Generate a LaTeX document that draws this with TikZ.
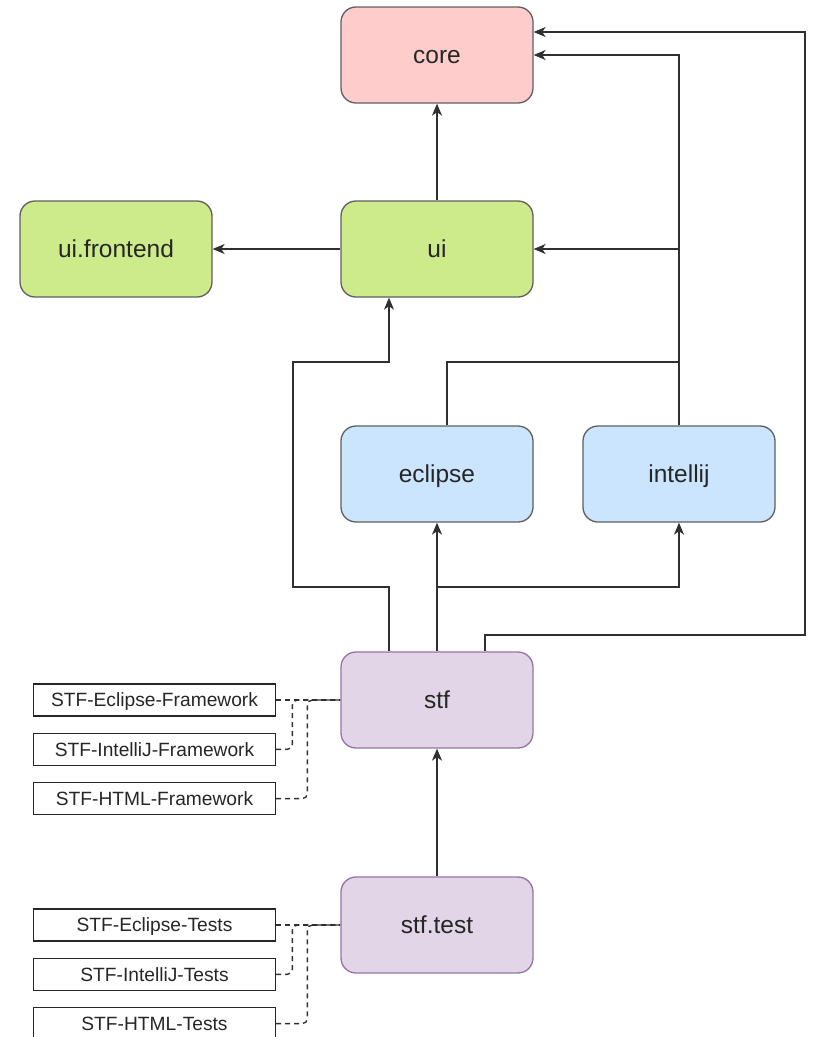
\documentclass[tikz,border=0pt]{standalone}
\usepackage{fontspec}
\setmainfont{Liberation Sans}
\usetikzlibrary{arrows.meta, positioning, calc}

\definecolor{corefill}{HTML}{FFCCCC}
\definecolor{uifill}{HTML}{CDEB8B}
\definecolor{idefill}{HTML}{CCE5FF}
\definecolor{stffill}{HTML}{E1D5E7}
\definecolor{stfline}{HTML}{9673A6}
\definecolor{boxline}{HTML}{5F5F5F}
\definecolor{wire}{HTML}{303030}

\tikzset{
    module/.style={ % Big rounded boxes for the modules
    draw=boxline, line width=1.3pt, rounded corners=15pt,
    minimum width=192pt, minimum height=96pt,
    font=\fontsize{24.5}{28}\selectfont, text=black!85,
    text height=22pt, text depth=5pt},
    framework/.style={ % Small plain boxes on the left
    draw=black!85, line width=1.3pt, inner sep=0pt,
    minimum width=242pt, minimum height=32pt,
    font=\fontsize{19.2}{22}\selectfont, text=black!85,
    text height=17pt, text depth=3.5pt},
    wire/.style={ % Plain connector lines
    draw=wire, line width=1.5pt},
    dep/.style={ % Dependency arrows
    wire, -{Stealth[length=12pt, width=10pt, inset=3.5pt]}},
    opt/.style={ % Dashed links to the frameworks
    draw=wire, line width=1.4pt, dash pattern=on 5pt off 4pt,
    rounded corners=5pt}}

\begin{document}
\begin{tikzpicture}[x=1pt, y=-1pt]
    \useasboundingbox (0,0) rectangle (815,1037);

    % Modules
    \node[module, fill=corefill] (core) at (437,55) {core};
    \node[module, fill=uifill] (ui) at (437,249) {ui};
    \node[module, fill=uifill] (frontend) at (116,249) {ui.frontend};
    \node[module, fill=idefill] (eclipse) at (437,474) {eclipse};
    \node[module, fill=idefill] (intellij) at (679,474) {intellij};
    \node[module, fill=stffill, draw=stfline] (stf) at (437,700) {stf};
    \node[module, fill=stffill, draw=stfline] (stftest) at (437,925) {stf.test};

    % Frameworks and tests
    \node[framework] (sef) at (154.5,700) {STF-Eclipse-Framework};
    \node[framework, below=16pt of sef] (sif) {STF-IntelliJ-Framework};
    \node[framework, below=16pt of sif] (shf) {STF-HTML-Framework};
    \node[framework] (set) at (154.5,925) {STF-Eclipse-Tests};
    \node[framework, below=16pt of set] (sit) {STF-IntelliJ-Tests};
    \node[framework, below=16pt of sit] (sht) {STF-HTML-Tests};

    % Bend points
    \coordinate (join) at (679,362);
    \coordinate (bend) at (437,587);
    \coordinate (rail) at (293,362);
    \coordinate (outer) at (805,635);

    % Upper dependencies
    \draw[dep] (ui) -- (core);
    \draw[dep] (ui) -- (frontend);
    \draw[wire] ([xshift=10pt]eclipse.north) |- (join);
    \draw[dep] (intellij.north) |- (core.east);
    \draw[dep] (intellij.north |- ui.east) -- (ui.east);

    % stf dependencies
    \draw[dep] ([xshift=-48pt]stf.north) |- (bend -| rail) -- (rail) -| ([xshift=-48pt]ui.south);
    \draw[dep] (stf) -- (eclipse);
    \draw[dep] (bend) -| (intellij.south);
    \draw[dep] ([xshift=48pt]stf.north) |- (outer) |- ([yshift=23pt]core.east);
    \draw[dep] (stftest) -- (stf);

    % Dashed links
    \draw[opt] (sef.east) -- (stf.west);
    \draw[opt] (sif.east) -| ([xshift=-48pt]stf.west) -- (stf.west);
    \draw[opt] (shf.east) -| ([xshift=-33pt]stf.west) -- (stf.west);
    \draw[opt] (set.east) -- (stftest.west);
    \draw[opt] (sit.east) -| ([xshift=-48pt]stftest.west) -- (stftest.west);
    \draw[opt] (sht.east) -| ([xshift=-33pt]stftest.west) -- (stftest.west);
\end{tikzpicture}
\end{document}
